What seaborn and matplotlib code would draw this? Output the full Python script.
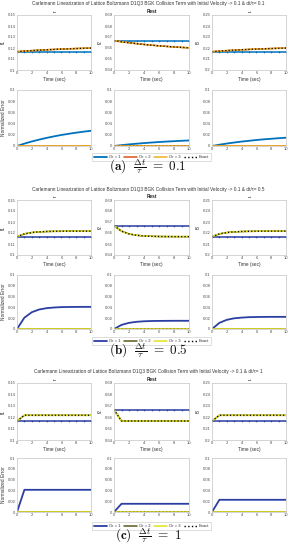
import matplotlib
matplotlib.use("Agg")
import matplotlib.pyplot as plt
import seaborn as sns

# ---------------- data ----------------
time = [0, 1, 2, 3, 4, 5, 6, 7, 8, 9, 10]
components = ["f1", "f2", "f3"]
col_titles = ["\u2190", "Rest", "\u2192"]
ylims = {"f1": (0.10, 0.15), "f2": (0.64, 0.69), "f3": (0.20, 0.25)}
yticks = {"f1": [0.10, 0.11, 0.12, 0.13, 0.14, 0.15],
          "f2": [0.64, 0.65, 0.66, 0.67, 0.68, 0.69],
          "f3": [0.20, 0.21, 0.22, 0.23, 0.24, 0.25]}
ytick_labels = {"f1": ["0.1", "0.11", "0.12", "0.13", "0.14", "0.15"],
                "f2": ["0.64", "0.65", "0.66", "0.67", "0.68", "0.69"],
                "f3": ["0.2", "0.21", "0.22", "0.23", "0.24", "0.25"]}
err_ticks = [0, 0.02, 0.04, 0.06, 0.08, 0.1]
err_tick_labels = ["0", "0.02", "0.04", "0.06", "0.08", "0.1"]
x_ticks = [0, 2, 4, 6, 8, 10]
series_labels = ["Or = 1", "Or = 2", "Or = 3", "Exact"]

# order-1 solution stays at the initial state
or1_f1 = [0.11667, 0.11667, 0.11667, 0.11667, 0.11667, 0.11667, 0.11667, 0.11667, 0.11667, 0.11667, 0.11667]
or1_f2 = [0.66667, 0.66667, 0.66667, 0.66667, 0.66667, 0.66667, 0.66667, 0.66667, 0.66667, 0.66667, 0.66667]
or1_f3 = [0.21667, 0.21667, 0.21667, 0.21667, 0.21667, 0.21667, 0.21667, 0.21667, 0.21667, 0.21667, 0.21667]
zero_err = [0, 0, 0, 0, 0, 0, 0, 0, 0, 0, 0]

# panel (a): dt/tau = 0.1
a_exact_f1 = [0.11667, 0.11717, 0.11762, 0.11802, 0.11839, 0.11871, 0.11901, 0.11927, 0.11951, 0.11973, 0.11992]
a_exact_f2 = [0.66667, 0.66567, 0.66477, 0.66396, 0.66323, 0.66257, 0.66198, 0.66145, 0.66097, 0.66054, 0.66015]
a_exact_f3 = [0.21667, 0.21717, 0.21762, 0.21802, 0.21839, 0.21871, 0.21901, 0.21927, 0.21951, 0.21973, 0.21992]
a_err1_f1 = [0, 0.0043, 0.0081, 0.0114, 0.0145, 0.0172, 0.0197, 0.0218, 0.0238, 0.0256, 0.0271]
a_err1_f2 = [0, 0.0015, 0.0029, 0.0041, 0.0052, 0.0062, 0.0071, 0.0079, 0.0086, 0.0093, 0.0099]
a_err1_f3 = [0, 0.0023, 0.0044, 0.0062, 0.0079, 0.0093, 0.0107, 0.0119, 0.0129, 0.0139, 0.0148]

# panel (b): dt/tau = 0.5
b_exact_f1 = [0.11667, 0.11917, 0.12042, 0.12104, 0.12135, 0.12151, 0.12159, 0.12163, 0.12165, 0.12166, 0.12166]
b_exact_f2 = [0.66667, 0.66167, 0.65917, 0.65792, 0.65729, 0.65698, 0.65682, 0.65675, 0.65671, 0.65669, 0.65668]
b_exact_f3 = [0.21667, 0.21917, 0.22042, 0.22104, 0.22135, 0.22151, 0.22159, 0.22163, 0.22165, 0.22166, 0.22166]
b_err1_f1 = [0, 0.0210, 0.0311, 0.0361, 0.0386, 0.0398, 0.0405, 0.0408, 0.0409, 0.0410, 0.0410]
b_err1_f2 = [0, 0.0076, 0.0114, 0.0133, 0.0143, 0.0148, 0.0150, 0.0151, 0.0152, 0.0152, 0.0152]
b_err1_f3 = [0, 0.0114, 0.0170, 0.0198, 0.0211, 0.0219, 0.0222, 0.0224, 0.0225, 0.0225, 0.0225]

# panel (c): dt/tau = 1
c_exact_f1 = [0.11667, 0.12167, 0.12167, 0.12167, 0.12167, 0.12167, 0.12167, 0.12167, 0.12167, 0.12167, 0.12167]
c_exact_f2 = [0.66667, 0.65667, 0.65667, 0.65667, 0.65667, 0.65667, 0.65667, 0.65667, 0.65667, 0.65667, 0.65667]
c_exact_f3 = [0.21667, 0.22167, 0.22167, 0.22167, 0.22167, 0.22167, 0.22167, 0.22167, 0.22167, 0.22167, 0.22167]
c_err1_f1 = [0, 0.0411, 0.0411, 0.0411, 0.0411, 0.0411, 0.0411, 0.0411, 0.0411, 0.0411, 0.0411]
c_err1_f2 = [0, 0.0152, 0.0152, 0.0152, 0.0152, 0.0152, 0.0152, 0.0152, 0.0152, 0.0152, 0.0152]
c_err1_f3 = [0, 0.0226, 0.0226, 0.0226, 0.0226, 0.0226, 0.0226, 0.0226, 0.0226, 0.0226, 0.0226]

panel_titles = [
    "Carlemann Linearization of Lattice Boltzmann D1Q3 BGK Collision Term with Initial Velocity -> 0.1 & dt/\u03c4= 0.1",
    "Carlemann Linearization of Lattice Boltzmann D1Q3 BGK Collision Term with Initial Velocity -> 0.1 & dt/\u03c4= 0.5",
    "Carlemann Linearization of Lattice Boltzmann D1Q3 BGK Collision Term with Initial Velocity -> 0.1 & dt/\u03c4= 1",
]
captions = [r"$\mathbf{(a)}\ \ \frac{\Delta t}{\tau}\ =\ 0.1$",
            r"$\mathbf{(b)}\ \ \frac{\Delta t}{\tau}\ =\ 0.5$",
            r"$\mathbf{(c)}\ \ \frac{\Delta t}{\tau}\ =\ 1$"]

panels = [
    {"exact": [a_exact_f1, a_exact_f2, a_exact_f3], "err1": [a_err1_f1, a_err1_f2, a_err1_f3]},
    {"exact": [b_exact_f1, b_exact_f2, b_exact_f3], "err1": [b_err1_f1, b_err1_f2, b_err1_f3]},
    {"exact": [c_exact_f1, c_exact_f2, c_exact_f3], "err1": [c_err1_f1, c_err1_f2, c_err1_f3]},
]
or1_vals = [or1_f1, or1_f2, or1_f3]

palettes = [
    ["#0072BD", "#D95319", "#EDB120", "#000000"],
    ["#2B3FA3", "#5C5A1E", "#E4E21C", "#000000"],
    ["#2B3FA3", "#5C5A1E", "#E4E21C", "#000000"],
]

# ---------------- layout (pixel boxes) ----------------
W, H = 290, 550
cols_x = [(17, 91), (114, 189), (212, 286)]
layout = [
    {"title": 4, "top": (15, 70), "bot": (90, 146), "legend": 157, "cap": 167},
    {"title": 189, "top": (200, 255), "bot": (275, 329), "legend": 341, "cap": 351},
    {"title": 372, "top": (383, 440), "bot": (458, 512), "legend": 526, "cap": 536},
]

sns.set_theme(style="white")
plt.rcParams["font.family"] = ["Liberation Sans", "DejaVu Sans"]
plt.rcParams["mathtext.fontset"] = "cm"

fig = plt.figure(figsize=(W / 100, H / 100), dpi=100)
fig.patch.set_facecolor("white")

spine_c = "#c4c4c4"
tick_c = "#4d4d4d"
fs = 3.0


def rect(x0, x1, y0, y1):
    return [x0 / W, 1 - y1 / H, (x1 - x0) / W, (y1 - y0) / H]


def style_ax(ax):
    for s in ax.spines.values():
        s.set_color(spine_c)
        s.set_linewidth(0.5)
    ax.tick_params(axis="both", direction="in", length=1.2, width=0.4,
                   color=spine_c, labelsize=fs, labelcolor=tick_c, pad=1.0)
    ax.set_xlim(0, 10)
    ax.set_xticks(x_ticks)
    ax.set_xticklabels([str(v) for v in x_ticks])


for p, (pdata, lay, pal) in enumerate(zip(panels, layout, palettes)):
    fig.text(148 / W, 1 - lay["title"] / H, panel_titles[p], ha="center", va="center",
             fontsize=3.4, color="#333333")
    for j, comp in enumerate(components):
        x0, x1 = cols_x[j]
        # top: distributions
        ax = fig.add_axes(rect(x0, x1, *lay["top"]))
        exact = pdata["exact"][j]
        sns.lineplot(x=time, y=or1_vals[j], ax=ax, color=pal[0], lw=1.1,
                     marker="+", markersize=2.0, markeredgewidth=0.4, mec=pal[0])
        sns.lineplot(x=time, y=exact, ax=ax, color=pal[1], lw=1.1)
        sns.lineplot(x=time, y=exact, ax=ax, color=pal[2], lw=1.1)
        sns.lineplot(x=time, y=exact, ax=ax, color=pal[3], lw=0.9, linestyle=":")
        ax.set_ylim(*ylims[comp])
        ax.set_yticks(yticks[comp])
        ax.set_yticklabels(ytick_labels[comp])
        style_ax(ax)
        ax.set_xlabel("Time (sec)", fontsize=fs + 0.4, color="#333333", labelpad=1.0)
        ax.set_ylabel(comp, fontsize=fs + 0.4, color="#333333", labelpad=1.0)
        ax.set_title(col_titles[j], fontsize=fs + 0.4, color="#222222", pad=1.5,
                     fontweight="bold" if j == 1 else "normal")

        # bottom: normalized error
        axb = fig.add_axes(rect(x0, x1, *lay["bot"]))
        sns.lineplot(x=time, y=pdata["err1"][j], ax=axb, color=pal[0], lw=1.3, label=series_labels[0])
        sns.lineplot(x=time, y=zero_err, ax=axb, color=pal[1], lw=1.1, label=series_labels[1])
        sns.lineplot(x=time, y=zero_err, ax=axb, color=pal[2], lw=1.1, label=series_labels[2])
        sns.lineplot(x=time, y=zero_err, ax=axb, color=pal[3], lw=0.0, label=series_labels[3])
        axb.set_ylim(0, 0.1)
        axb.set_yticks(err_ticks)
        axb.set_yticklabels(err_tick_labels)
        style_ax(axb)
        axb.set_xlabel("")
        axb.set_ylabel("Normalized Error" if j == 0 else "", fontsize=fs + 0.4,
                       color="#333333", labelpad=1.0)
        if j == 1:
            handles, _ = axb.get_legend_handles_labels()
            handles[3].set_linestyle(":")
            handles[3].set_linewidth(1.0)
            leg = axb.legend(handles, series_labels, ncol=4, loc="center",
                             bbox_to_anchor=(0.5, -(lay["legend"] - lay["bot"][1]) / (lay["bot"][1] - lay["bot"][0])),
                             fontsize=fs, frameon=True, fancybox=False, handlelength=3.2,
                             handletextpad=0.4, columnspacing=0.8, borderpad=0.4,
                             labelcolor="#333333")
            leg.get_frame().set_edgecolor(spine_c)
            leg.get_frame().set_linewidth(0.5)
        else:
            if axb.get_legend() is not None:
                axb.get_legend().remove()

    fig.text(148 / W, 1 - lay["cap"] / H, captions[p], ha="center", va="center",
             fontsize=9.5, color="#111111")

fig.savefig("out.png", dpi=100, facecolor="white")
